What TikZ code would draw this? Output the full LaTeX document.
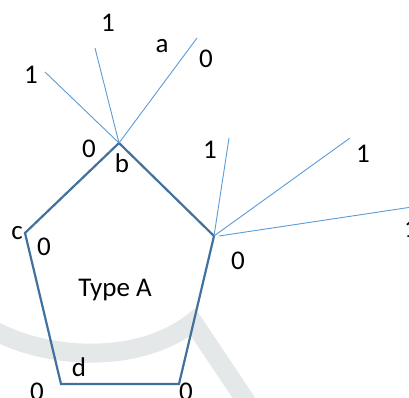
\documentclass[tikz,border=0pt]{standalone}
\usepackage{fontspec}
\setmainfont{Carlito}
\begin{document}
\begin{tikzpicture}[x=1pt,y=-1pt,
  pent/.style={draw=pentblue,line width=2.2pt,line join=miter},
  spoke/.style={draw=spokeblue,line width=0.9pt},
  lab/.style={font=\fontsize{27}{29}\selectfont,inner sep=0pt,anchor=center},
  wmark/.style={draw=wmgray,line width=19pt}]
\definecolor{pentblue}{HTML}{41719C}
\definecolor{spokeblue}{HTML}{5B9BD5}
\definecolor{wmgray}{HTML}{E4E8E8}
\useasboundingbox (0,0) rectangle (409,398);
% watermark swoosh
\draw[wmark] (-5,331) .. controls (50,360) and (140,364) .. (193,322) -- (252,410);
% pentagon vertices
\coordinate (b) at (119,143);
\coordinate (r) at (214,236);
\coordinate (br) at (179,384);
\coordinate (bl) at (61,384);
\coordinate (c) at (25,233);
\draw[pent] (b) -- (r) -- (br) -- (bl) -- (c) -- cycle;
% spokes from b
\coordinate (b1) at (45,72);
\coordinate (b2) at (95,48);
\coordinate (b3) at (197,38);
\draw[spoke] (b) -- (b1);
\draw[spoke] (b) -- (b2);
\draw[spoke] (b) -- (b3);
% spokes from right vertex
\coordinate (r1) at (229,138);
\coordinate (r2) at (350,138);
\coordinate (r3s) at (219,236);
\coordinate (r3) at (412,207);
\draw[spoke] (r) -- (r1);
\draw[spoke] (r) -- (r2);
\draw[spoke] (r3s) -- (r3);
% labels
\node[lab] (l1) at (31,75) {1};
\node[lab] (l2) at (108,23) {1};
\node[lab] (la) at (162,46) {a};
\node[lab] (l3) at (206,59) {0};
\node[lab] (l4) at (89,149) {0};
\node[lab] (lb) at (122,163) {b};
\node[lab] (l5) at (210,150) {1};
\node[lab] (l6) at (363,154) {1};
\node[lab] (l7) at (411,229) {1};
\node[lab] (l8) at (238,261) {0};
\node[lab] (lc) at (17,233) {c};
\node[lab] (l9) at (44,247) {0};
\node[lab] (type) at (115,290) {Type A};
\node[lab] (ld) at (79,367) {d};
\node[lab] (l10) at (37,392) {0};
\node[lab] (l11) at (186,392) {0};
\end{tikzpicture}
\end{document}
